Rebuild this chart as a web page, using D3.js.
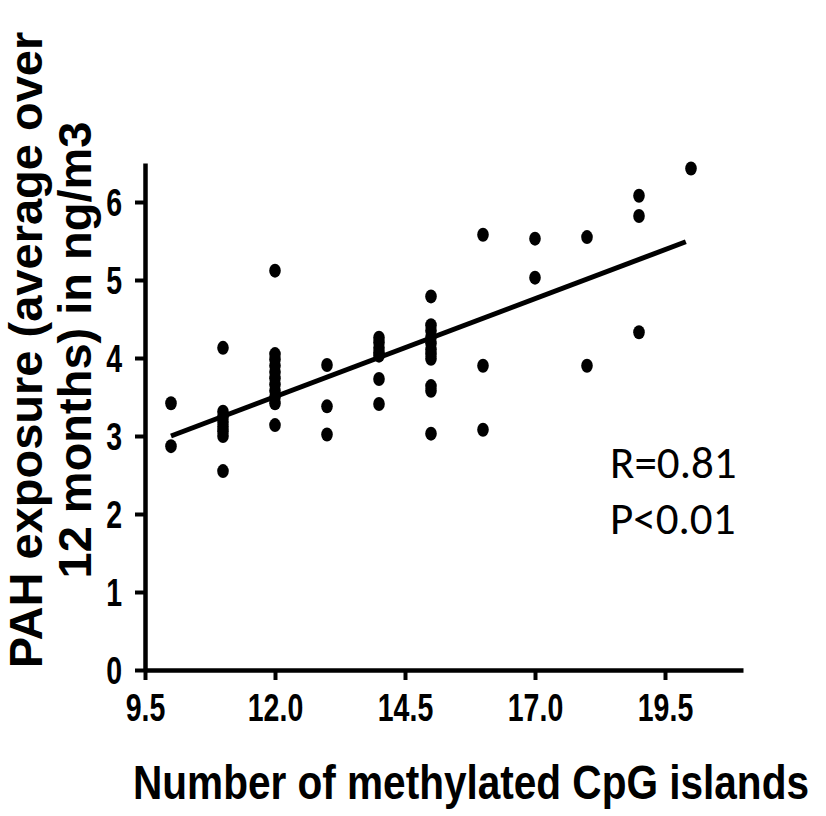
<!DOCTYPE html>
<html>
<head>
<meta charset="utf-8">
<script src="https://cdn.jsdelivr.net/npm/d3@7"></script>
<style>
  body { margin: 0; background: #fff; }
  svg { display: block; }
  .narrow { font-family: "Liberation Sans Narrow", "Liberation Sans", Arial, sans-serif; font-weight: bold; }
</style>
</head>
<body>
<div id="chart"></div>
<script>
// number of methylated CpG islands per sample
var cpgCount = [
    10, 10,
    11, 11, 11, 11, 11, 11, 11, 11,
    12, 12, 12, 12, 12, 12, 12, 12, 12, 12, 12,
    13, 13, 13,
    14, 14, 14, 14, 14, 14, 14,
    15, 15, 15, 15, 15, 15, 15, 15, 15, 15, 15,
    16, 16, 16,
    17, 17,
    18, 18,
    19, 19, 19,
    20
];
// PAH exposure (ng/m3), same order as cpgCount
var pahExposure = [
    3.42, 2.87,
    4.13, 3.31, 3.24, 3.18, 3.12, 3.06, 3.00, 2.55,
    5.12, 4.05, 3.98, 3.90, 3.82, 3.74, 3.66, 3.58, 3.50, 3.42, 3.14,
    3.91, 3.38, 3.02,
    4.26, 4.20, 4.13, 4.07, 4.03, 3.73, 3.41,
    4.79, 4.42, 4.35, 4.27, 4.19, 4.11, 4.05, 3.99, 3.64, 3.58, 3.03,
    5.58, 3.90, 3.08,
    5.53, 5.03,
    5.55, 3.90,
    6.08, 5.82, 4.33,
    6.43
];
// fitted line end points
var fitX = [10, 19.9];
var fitY = [3.0, 5.49];

var xTicks = [9.5, 12.0, 14.5, 17.0, 19.5];
var yTicks = [0, 1, 2, 3, 4, 5, 6];
var statLines = ["R=0.81", "P<0.01"];

var width = 826, height = 816;
var squeeze = 0.75; // no narrow font installed, so squash the bold one
var svg = d3.select("#chart").append("svg").attr("width", width).attr("height", height);

var x = d3.scaleLinear().domain([9.5, 21]).range([145, 743]);
var y = d3.scaleLinear().domain([0, 6.5]).range([670, 163]);

// axes
var xAxis = svg.append("g")
    .attr("transform", "translate(0," + y(0) + ")")
    .call(d3.axisBottom(x).tickValues(xTicks).tickFormat(d3.format(".1f")).tickSize(10).tickSizeOuter(0));
var yAxis = svg.append("g")
    .attr("transform", "translate(" + x(9.5) + ",0)")
    .call(d3.axisLeft(y).tickValues(yTicks).tickFormat(d3.format("d")).tickSize(10).tickSizeOuter(0));

[xAxis, yAxis].forEach(function(ax) {
    ax.select(".domain").attr("stroke", "#000").attr("stroke-width", 4.5);
    ax.selectAll(".tick line").attr("stroke", "#000").attr("stroke-width", 4);
    ax.selectAll(".tick text")
        .attr("class", "narrow")
        .style("font-size", "38px")
        .attr("fill", "#000")
        .attr("transform", "scale(" + squeeze + ",1)");
});
xAxis.selectAll(".tick text").attr("x", 0).attr("y", 51).attr("dy", null);
yAxis.selectAll(".tick text").attr("x", -23 / squeeze).attr("dy", "0.36em");

// points
svg.append("g").selectAll("ellipse")
    .data(cpgCount.map(function(c, i) { return [c, pahExposure[i]]; }))
    .enter().append("ellipse")
    .attr("cx", function(d) { return x(d[0]); })
    .attr("cy", function(d) { return y(d[1]); })
    .attr("rx", 5.8)
    .attr("ry", 7)
    .attr("fill", "#000");

// regression line
svg.append("path")
    .datum(fitX.map(function(v, i) { return [v, fitY[i]]; }))
    .attr("d", d3.line().x(function(d) { return x(d[0]); }).y(function(d) { return y(d[1]); }))
    .attr("stroke", "#000")
    .attr("stroke-width", 5)
    .attr("fill", "none");

// stats text
svg.append("g").selectAll("text")
    .data(statLines)
    .enter().append("text")
    .attr("x", 610)
    .attr("y", function(d, i) { return 478 + i * 56; })
    .style("font-family", "Carlito, Calibri, Lato, sans-serif")
    .style("font-size", "45px")
    .attr("fill", "#000")
    .text(function(d) { return d; });

// axis titles
svg.append("text")
    .attr("class", "narrow")
    .attr("transform", "translate(471,799) scale(0.845,1)")
    .attr("text-anchor", "middle")
    .style("font-size", "48px")
    .text("Number of methylated CpG islands");

var yTitle = svg.append("text")
    .attr("transform", "translate(0,350) rotate(-90)")
    .attr("text-anchor", "middle")
    .style("font-family", "'Liberation Sans', Arial, sans-serif")
    .style("font-weight", "bold")
    .style("font-size", "47px");
yTitle.append("tspan").attr("x", 0).attr("y", 42).text("PAH exposure (average over");
yTitle.append("tspan").attr("x", 0).attr("y", 91).text("12 months) in ng/m3");
</script>
</body>
</html>
